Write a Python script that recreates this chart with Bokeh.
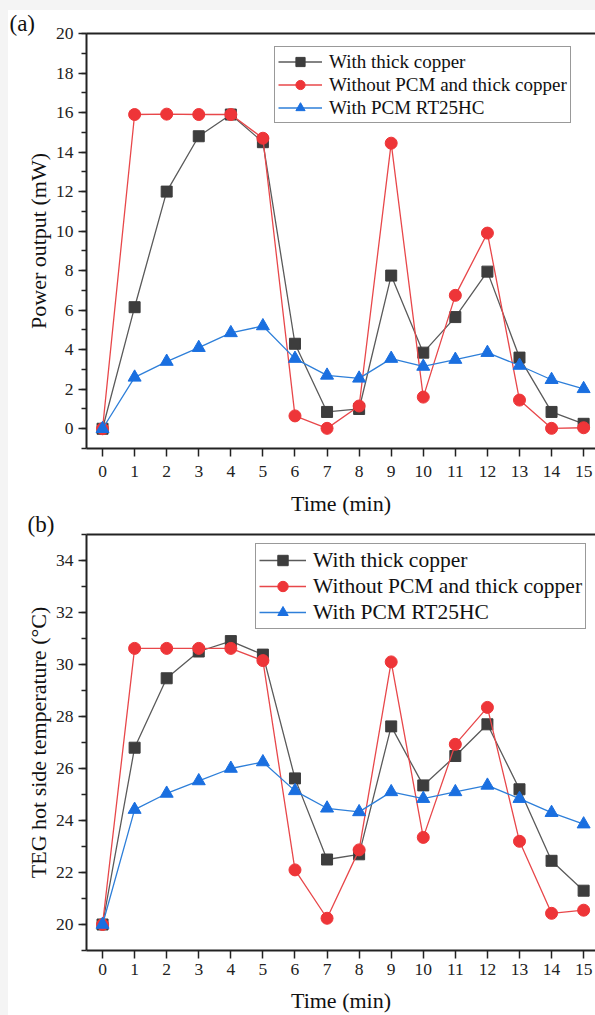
from bokeh.plotting import figure
from bokeh.models import (LinearAxis, FixedTicker, SingleIntervalTicker, Legend,
                          LegendItem, Range1d)
from bokeh.layouts import column
from bokeh.embed import file_html
from bokeh.resources import INLINE

time_min = list(range(16))
x_ticks = list(range(16))

power_copper = [0.0, 6.15, 12.0, 14.8, 15.9, 14.5, 4.3, 0.85, 1.0, 7.75, 3.85, 5.65, 7.95, 3.6, 0.85, 0.25]
power_no_pcm = [0.0, 15.9, 15.92, 15.9, 15.9, 14.7, 0.65, 0.02, 1.15, 14.45, 1.6, 6.75, 9.9, 1.45, 0.02, 0.05]
power_pcm = [0.0, 2.6, 3.4, 4.1, 4.85, 5.2, 3.55, 2.7, 2.55, 3.55, 3.15, 3.5, 3.85, 3.2, 2.48, 2.02]

temp_copper = [20.0, 26.8, 29.47, 30.5, 30.9, 30.38, 25.62, 22.5, 22.7, 27.62, 25.35, 26.48, 27.7, 25.2, 22.45, 21.3]
temp_no_pcm = [20.0, 30.62, 30.62, 30.62, 30.62, 30.15, 22.1, 20.24, 22.87, 30.1, 23.35, 26.93, 28.35, 23.2, 20.43, 20.55]
temp_pcm = [20.0, 24.42, 25.04, 25.52, 26.0, 26.25, 25.14, 24.47, 24.33, 25.1, 24.84, 25.1, 25.35, 24.84, 24.3, 23.86]

labels = ["With thick copper", "Without PCM and thick copper", "With PCM RT25HC"]

SERIF = "Liberation Serif"
C_BLACK_LINE = "#5a5a5a"
C_BLACK = "#3d3d3d"
C_RED_LINE = "#e8474a"
C_RED = "#ee3538"
C_BLUE_LINE = "#2e7fd9"
C_BLUE = "#1a6fe0"


def make_panel(height, y_lo, y_hi, b_top, b_bottom, ylabel, series, tag,
               tag_offset, tag_standoff, tick_standoff, label_standoff,
               leg_loc, leg_font, leg_h, leg_gw):
    p = figure(width=587, height=height, x_range=Range1d(-0.5, 15.37),
               y_range=Range1d(y_lo, y_hi), output_backend="svg",
               toolbar_location=None, min_border_left=78, min_border_right=0,
               min_border_top=b_top, min_border_bottom=b_bottom)
    p.outline_line_color = None
    p.xgrid.visible = False
    p.ygrid.visible = False
    p.background_fill_color = "white"
    p.border_fill_color = "white"
    p.border_fill_alpha = 0

    p.title.text = tag
    p.title.align = "left"
    p.title.offset = tag_offset
    p.title.standoff = tag_standoff
    p.title.text_font = SERIF
    p.title.text_font_size = "23px"
    p.title.text_font_style = "normal"
    p.title.text_color = "#111111"

    for ax in (p.xaxis[0], p.yaxis[0]):
        ax.axis_line_width = 2
        ax.axis_line_color = "#222222"
        ax.major_tick_line_width = 1.5
        ax.major_tick_line_color = "#222222"
        ax.minor_tick_line_width = 1.5
        ax.minor_tick_line_color = "#222222"
        ax.major_tick_in = 0
        ax.major_tick_out = 8
        ax.minor_tick_in = 0
        ax.minor_tick_out = 5
        ax.major_label_text_font = SERIF
        ax.major_label_text_font_size = "17.5px"
        ax.major_label_text_color = "#222222"
        ax.axis_label_text_font = SERIF
        ax.axis_label_text_font_size = "22px"
        ax.axis_label_text_font_style = "normal"
        ax.axis_label_text_color = "#111111"

    p.xaxis.ticker = FixedTicker(ticks=x_ticks)
    p.xaxis.minor_tick_line_color = None
    p.xaxis.major_label_standoff = tick_standoff
    p.xaxis.axis_label = "Time (min)"
    p.xaxis.axis_label_standoff = label_standoff
    p.yaxis.ticker = SingleIntervalTicker(interval=2, num_minor_ticks=2)
    p.yaxis.major_label_standoff = 5
    p.yaxis.axis_label = ylabel
    p.yaxis.axis_label_standoff = 2

    top = LinearAxis(ticker=FixedTicker(ticks=[]), axis_line_width=2,
                     axis_line_color="#222222", major_tick_line_color=None,
                     minor_tick_line_color=None, major_tick_out=0, major_tick_in=0,
                     minor_tick_out=0, minor_tick_in=0, major_label_standoff=0,
                     major_label_text_font_size="0px")
    p.add_layout(top, "above")

    styles = [
        (C_BLACK_LINE, C_BLACK, "square", 11),
        (C_RED_LINE, C_RED, "circle", 12),
        (C_BLUE_LINE, C_BLUE, "triangle", 13),
    ]
    items = []
    for (lc, mc, marker, size), ys, lab in zip(styles, series, labels):
        lr = p.line(time_min, ys, line_color=lc, line_width=1.3)
        sr = p.scatter(time_min, ys, marker=marker, size=size, fill_color=mc,
                       line_color=mc, line_width=1)
        items.append(LegendItem(label=lab, renderers=[lr, sr]))

    leg = Legend(items=items, location=leg_loc, margin=0, padding=3, spacing=0,
                 glyph_width=leg_gw, glyph_height=leg_h, label_height=leg_h,
                 label_standoff=7, label_text_font=SERIF,
                 label_text_font_size=leg_font, label_text_color="#111111",
                 border_line_color="#333333", border_line_width=1,
                 background_fill_color="white", background_fill_alpha=1)
    p.add_layout(leg)
    return p


p1 = make_panel(508, -1, 20, 23, 70, "Power output (mW)",
                [power_copper, power_no_pcm, power_pcm], "(a)", -77, -4, 9, 11,
                (188, 325), "19px", 23, 44)
p2 = make_panel(504, 19, 35, 23, 64, "TEG hot side temperature (°C)",
                [temp_copper, temp_no_pcm, temp_pcm], "(b)", -59, -5, 5, 10,
                (169, 321), "21.5px", 26, 47)

p2.margin = (-7, 0, 0, 0)

inner = column(p1, p2, spacing=0, margin=(10, 0, 0, 8),
               styles={"background-color": "white"})
layout = column(inner, spacing=0, styles={"background-color": "#f4f4f4"})

open("out.html", "w").write(file_html(layout, INLINE))
